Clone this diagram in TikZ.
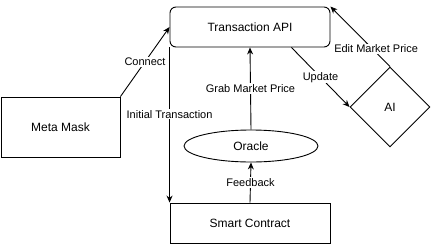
\documentclass[tikz,border=0pt]{standalone}
\usepackage{fontspec}
\setmainfont{Liberation Sans}
\usetikzlibrary{arrows.meta}
\usetikzlibrary{positioning}
\usetikzlibrary{shapes.geometric}

\tikzset{
    box/.style={draw, line width=0.9pt, minimum width=160pt, minimum height=40pt,
        font=\fontsize{12}{14}\selectfont},
    conn/.style={draw, line width=0.9pt, -{Stealth[length=7pt,width=6pt]}},
    lbl/.style={fill=white, inner sep=1pt, font=\fontsize{11}{13}\selectfont},
}

\begin{document}
\begin{tikzpicture}[x=1pt, y=-1pt]
    \useasboundingbox (0,0) rectangle (431,244);

    \node [box, rounded corners=6pt] (api) at (250,27) {Transaction API};
    \node [box, minimum width=119pt, minimum height=60pt] (mask) at (60.5,127) {Meta Mask};
    \node [box] (contract) at (250,223) {Smart Contract};
    \node [box, ellipse, minimum width=134pt, minimum height=32pt, inner sep=0pt] (oracle) at (251,146) {Oracle};
    \node [box, diamond, minimum width=80pt, minimum height=80pt, inner sep=0pt] (ai) at (390,107) {AI};

    \coordinate (upd) at ([xshift=-39pt]api.south east);

    \draw [conn] (mask.north east) -- node [lbl] {Connect} (api.west);
    \draw [conn] (api.south west) -- node [lbl, pos=0.43] {Initial Transaction} (contract.north west);
    \draw [conn] (oracle.north) -- node [lbl] {Grab Market Price} (api.south);
    \draw [conn] (contract.north) -- node [lbl] {Feedback} (oracle.south);
    \draw [conn] (upd) -- node [lbl] {Update} (ai.west);
    \draw [conn] (ai.north) -- node [lbl, pos=0.3, xshift=4pt] {Edit Market Price} (api.north east);
\end{tikzpicture}
\end{document}
